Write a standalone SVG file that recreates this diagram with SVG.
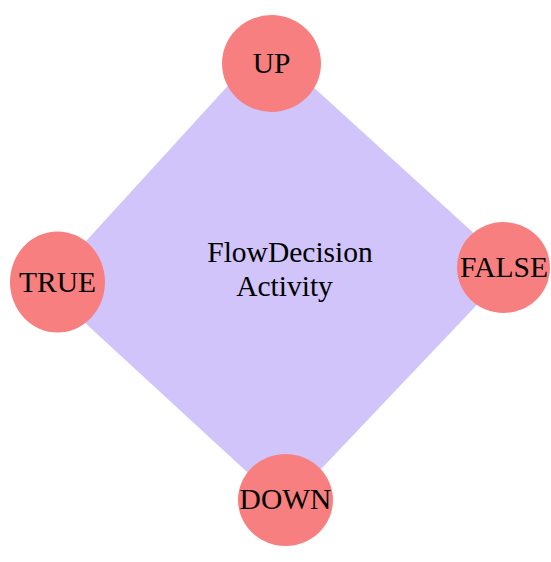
<svg xmlns="http://www.w3.org/2000/svg" width="551" height="562" viewBox="0 0 551 562">
<style>
.port{fill:#f77f7f;}
.body{fill:#d1c4fa;}
text{font-family:"Liberation Serif","Times New Roman",serif;font-size:29.5px;fill:#000;text-anchor:middle;}
</style>
<rect width="551" height="562" fill="#fff"/>
<g id="connectors"></g>
<g id="activity">
<polygon class="body" points="266,44 512,268 285,507 45,286"/>
<text x="290" y="262">FlowDecision</text>
<text x="284.5" y="296">Activity</text>
</g>
<g id="up">
<ellipse class="port" cx="271.5" cy="63.5" rx="49.5" ry="48.5"/>
<text x="271.5" y="73">UP</text>
</g>
<g id="false">
<ellipse class="port" cx="503.5" cy="267.5" rx="46.5" ry="45.5"/>
<text x="504" y="277">FALSE</text>
</g>
<g id="down">
<ellipse class="port" cx="285.5" cy="500" rx="47.5" ry="46"/>
<text x="285.5" y="509">DOWN</text>
</g>
<g id="true">
<ellipse class="port" cx="57.5" cy="282" rx="47.5" ry="50.5"/>
<text x="57.5" y="291.5">TRUE</text>
</g>
</svg>
